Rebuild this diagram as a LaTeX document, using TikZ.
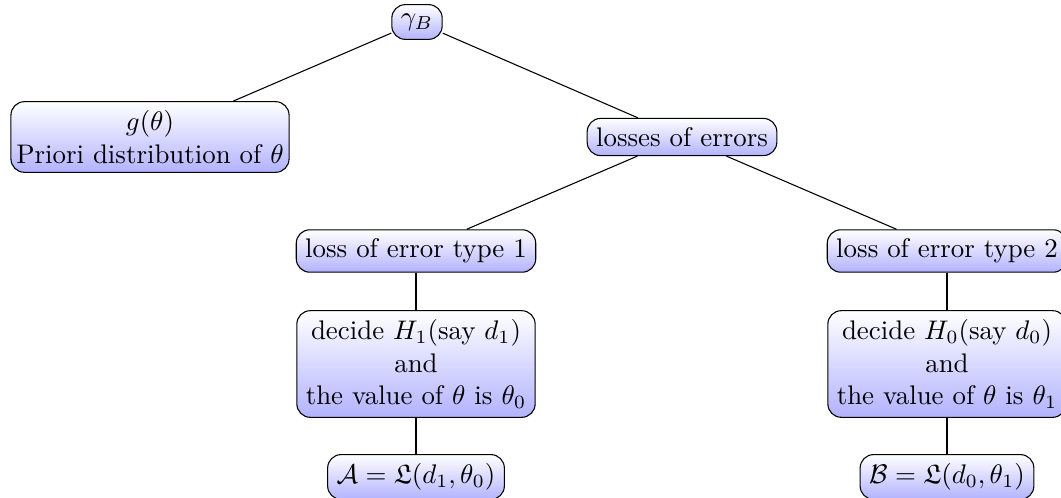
\documentclass[tikz,border=0pt]{standalone}
\usepackage{amsfonts, amsmath, amssymb}
\usepackage{tikz}
\tikzset{
    decision/.style={
        draw, rounded corners=5pt, align=center,
        top color=white, bottom color=blue!30
    },
}

\begin{document}
\begin{tikzpicture}[x=0.372pt, y=-0.372pt]
\useasboundingbox (0,0) rectangle (1061,498);
\node[decision] (gB) at (417,22) {$\gamma_B$};
\node[decision, inner xsep=2pt] (prior) at (150,137) {$g(\theta)$\\Priori distribution of $\theta$};
\node[decision] (losses) at (682,137) {losses of errors};
\node[decision] (typeI) at (416,251) {loss of error type 1};
\node[decision] (typeII) at (947,251) {loss of error type 2};
\node[decision] (decI) at (416,364) {decide $H_1$(say $d_1$)\\and\\the value of $\theta$ is $\theta_0$};
\node[decision] (decII) at (947,364) {decide $H_0$(say $d_0$)\\and\\the value of $\theta$ is $\theta_1$};
\node[decision] (lossA) at (416,477) {$\mathcal{A}=\mathfrak{L}(d_1,\theta_0)$};
\node[decision] (lossB) at (947,477) {$\mathcal{B}=\mathfrak{L}(d_0,\theta_1)$};
\draw (gB) -- (prior);
\draw (gB) -- (losses);
\draw (losses) -- (typeI);
\draw (losses) -- (typeII);
\draw (typeI) -- (decI);
\draw (typeII) -- (decII);
\draw (decI) -- (lossA);
\draw (decII) -- (lossB);
\end{tikzpicture}
\end{document}
